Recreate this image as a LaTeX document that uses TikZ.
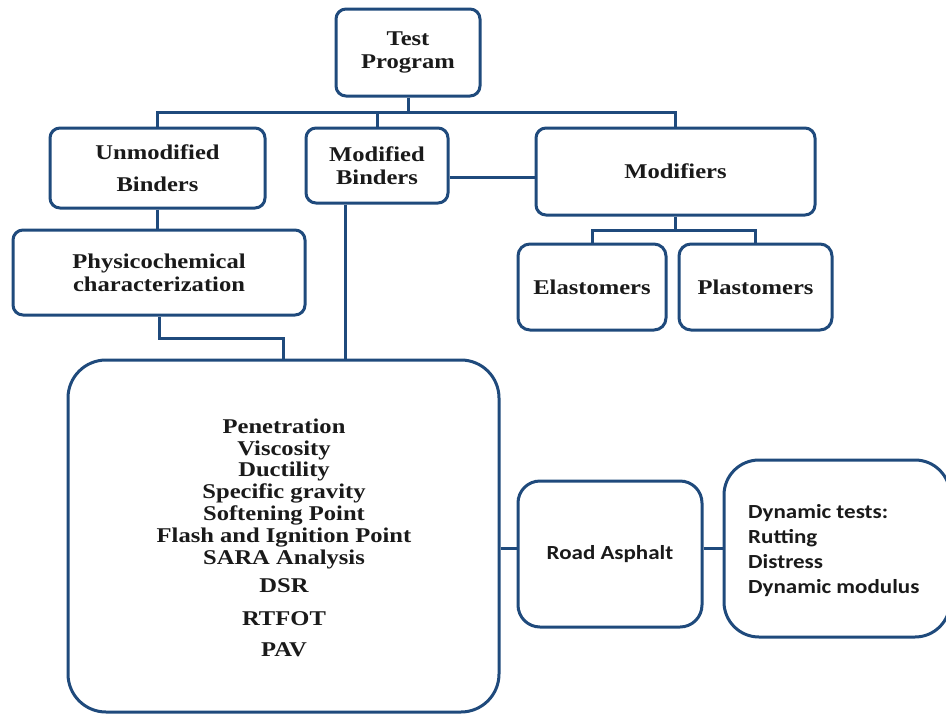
\documentclass[tikz,border=0pt]{standalone}
\usepackage{fontspec}
\newfontfamily\refserif{Liberation Serif}[FakeStretch=1.17]
\newfontfamily\refsans{Carlito}[FakeStretch=1.15]
\definecolor{navy}{HTML}{1F4A7C}
\definecolor{ink}{HTML}{1A1A1A}
\begin{document}
\begin{tikzpicture}[x=1pt,y=-1pt,
  box/.style={draw=navy,line width=3pt,fill=white,rounded corners=10pt,inner sep=0pt,align=center,text=ink,
    font=\refserif\bfseries\fontsize{21}{23}\selectfont},
  link/.style={draw=navy,line width=3pt},
  item/.style={font=\refserif\bfseries\fontsize{21}{22}\selectfont,anchor=base,inner sep=0pt,text=ink},
  dyn/.style={font=\refsans\bfseries\fontsize{20}{22}\selectfont,anchor=base west,inner sep=0pt,text=ink}]
\useasboundingbox (0,0) rectangle (946,713);
\fill[white] (0,0) rectangle (946,713);
% boxes
\node[box,minimum width=144pt,minimum height=87pt] (tp) at (408,52.5) {Test\\Program};
\node[box,minimum width=215pt,minimum height=80pt] (ub) at (157.5,168) {Unmodified\\[9pt]Binders};
\node[box,minimum width=142pt,minimum height=75pt] (mb) at (377,165.5) {Modified\\Binders};
\node[box,minimum width=279pt,minimum height=87pt] (mf) at (675.5,171.5) {Modifiers};
\node[box,minimum width=148pt,minimum height=86pt,rounded corners=12pt] (el) at (592,287) {Elastomers};
\node[box,minimum width=153pt,minimum height=86pt,rounded corners=12pt] (pl) at (755.5,287) {Plastomers};
\node[box,minimum width=292pt,minimum height=85pt] (pc) at (159,272.5) {Physicochemical\\characterization};
\node[box,minimum width=431pt,minimum height=352pt,rounded corners=38pt] (big) at (283.5,536) {};
\node[box,minimum width=184pt,minimum height=146pt,rounded corners=22pt] (ra) at (610,554) {};
\node[box,minimum width=226pt,minimum height=177pt,rounded corners=35pt] (dy) at (837,548.5) {};
% helper rows
\coordinate (bus) at (0,112);
\coordinate (rowlink) at (0,177);
\coordinate (modbus) at (0,230);
\coordinate (pcjoin) at (0,338);
\coordinate (ralink) at (0,548);
% connectors
\draw[link] (tp.south) -- (tp.south |- bus);
\draw[link] (ub.north) -- (ub.north |- bus) -- (mf.north |- bus) -- (mf.north);
\draw[link] (mb.north) -- (mb.north |- bus);
\draw[link] (mb.east |- rowlink) -- (mf.west |- rowlink);
\draw[link] (ub.south) -- (ub.south |- pc.north);
\draw[link] (pc.south) -- (pc.south |- pcjoin) -| (big.north);
\draw[link] ([xshift=-32pt]mb.south) -- ([xshift=-32pt]mb.south |- big.north);
\draw[link] (mf.south) -- (mf.south |- modbus);
\draw[link] (el.north) -- (el.north |- modbus) -- (pl.north |- modbus) -- (pl.north);
\draw[link] (big.east |- ralink) -- (ra.west |- ralink);
\draw[link] (ra.east |- ralink) -- (dy.west |- ralink);
% big box list
\node[item] (t1) at (284,433) {Penetration};
\node[item] (t2) at (284,455) {Viscosity};
\node[item] (t3) at (284,476) {Ductility};
\node[item] (t4) at (284,498) {Specific gravity};
\node[item] (t5) at (284,520) {Softening Point};
\node[item] (t6) at (284,542) {Flash and Ignition Point};
\node[item] (t7) at (284,564) {SARA Analysis};
\node[item] (t8) at (284,592) {DSR};
\node[item] (t9) at (284,625) {RTFOT};
\node[item] (t10) at (284,656) {PAV};
% sans texts
\node[font=\refsans\bfseries\fontsize{20}{22}\selectfont,anchor=base,inner sep=0pt,text=ink] (ratext) at (610,559) {Road Asphalt};
\node[dyn] (d1) at (748,518) {Dynamic tests:};
\node[dyn] (d2) at (748,543) {Rutting};
\node[dyn] (d3) at (748,568) {Distress};
\node[dyn] (d4) at (748,593) {Dynamic modulus};
\end{tikzpicture}
\end{document}
